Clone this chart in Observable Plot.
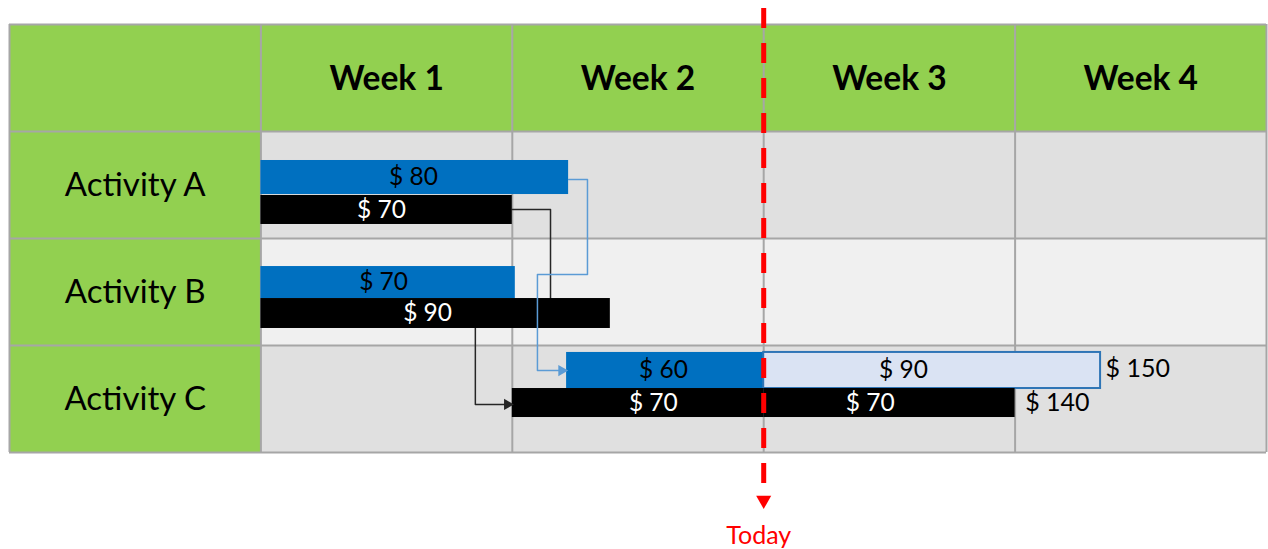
<!DOCTYPE html>
<html>
<head>
<meta charset="utf-8">
<script src="https://cdn.jsdelivr.net/npm/d3@7"></script>
<script src="https://cdn.jsdelivr.net/npm/@observablehq/plot@0.6"></script>
<style>
  html, body { margin: 0; padding: 0; background: #fff; }
  #chart svg { display: block; }
</style>
</head>
<body>
<div id="chart"></div>
<script>
// ---- data ----
const weeks = ["Week 1", "Week 2", "Week 3", "Week 4"];
const activities = ["Activity A", "Activity B", "Activity C"];
const rowFills = ["#E0E0E0", "#F0F0F0", "#E0E0E0"];

// bars: row index (1-based under header), start/end in weeks, top/bottom within row (fraction of row)
const barRow   = [1, 1, 2, 2, 3, 3, 3, 3];
const barStart = [0, 0, 0, 0, 1.216, 2.0, 1.0, 2.0];
const barEnd   = [1.224, 1.0, 1.012, 1.39, 2.0, 3.34, 2.0, 3.0];
const barTop   = [0.271, 0.598, 0.262, 0.561, 0.065, 0.065, 0.402, 0.402];
const barBot   = [0.589, 0.869, 0.561, 0.841, 0.402, 0.402, 0.673, 0.673];
const barKind  = ["plan", "actual", "plan", "actual", "plan", "forecast", "actual", "actual"];

// bar value labels
const labelText = ["$ 80", "$ 70", "$ 70", "$ 90", "$ 60", "$ 90", "$ 70", "$ 70"];
const labelX    = [0.607, 0.48, 0.488, 0.663, 1.601, 2.556, 1.561, 2.424];

// totals
const totalText = ["$ 150", "$ 140"];
const totalX    = [3.36, 3.04];
const totalY    = [3.215, 3.54];

// dependency connectors (waypoints in week / row units)
const connBlackX = [1.0, 1.152, 1.152, 0.853, 0.853, 1.0];
const connBlackY = [1.729, 1.729, 2.70, 2.70, 3.551, 3.551];
const connBlueX  = [1.224, 1.299, 1.299, 1.100, 1.100, 1.216];
const connBlueY  = [1.449, 1.449, 2.336, 2.336, 3.234, 3.234];

const today = 2.0;
const todayLabel = "Today";

// ---- build tables ----
const kindFill = {plan: "#0070C0", actual: "#000000", forecast: "#DAE3F3"};
const kindStroke = {plan: "none", actual: "none", forecast: "#2E75B6"};
const kindText = {plan: "#000000", actual: "#FFFFFF", forecast: "#000000"};

const cells = [];
for (let r = 0; r <= 3; r++) {
  for (let c = -1; c < 4; c++) {
    const green = r === 0 || c === -1;
    cells.push({c, r, fill: green ? "#92D050" : rowFills[r - 1]});
  }
}
const bars = barRow.map((row, i) => ({
  row, x1: barStart[i], x2: barEnd[i],
  y1: row + barTop[i], y2: row + barBot[i],
  kind: barKind[i], label: labelText[i], lx: labelX[i],
  ly: row + (barTop[i] + barBot[i]) / 2
}));
const blackConn = connBlackX.map((x, i) => ({x, y: connBlackY[i]}));
const blueConn = connBlueX.map((x, i) => ({x, y: connBlueY[i]}));
const arrowHeads = [
  {id: "black", x: connBlackX[connBlackX.length - 1], y: connBlackY[connBlackY.length - 1]},
  {id: "blue", x: connBlueX[connBlueX.length - 1], y: connBlueY[connBlueY.length - 1]}
];
const connColor = {black: "#262626", blue: "#5B9BD5"};
const totals = totalText.map((t, i) => ({t, x: totalX[i], y: totalY[i]}));

const font = "Lato, 'Open Sans', sans-serif";

const chart = Plot.plot({
  width: 1268,
  height: 549,
  margin: 0,
  style: {background: "#fff", fontFamily: font, overflow: "visible"},
  x: {domain: [-1, 4], range: [9, 1266], axis: null},
  y: {domain: [0, 4], range: [24, 452], axis: null},
  marks: [
    Plot.rect(cells, {x1: d => d.c, x2: d => d.c + 1, y1: "r", y2: d => d.r + 1, fill: "fill"}),
    Plot.ruleX(d3.range(-1, 5), {y1: 0, y2: 4, stroke: "#A6A6A6", strokeWidth: 2}),
    Plot.ruleY(d3.range(0, 5), {x1: -1, x2: 4, stroke: "#A6A6A6", strokeWidth: 2}),
    Plot.text(weeks, {x: (d, i) => i + 0.5, y: 0.5, dy: 1, text: d => d, fontSize: 33.5, fontWeight: "bold", fill: "#000"}),
    Plot.text(activities, {x: -0.5, y: (d, i) => i + 1.5, text: d => d, fontSize: 33, fill: "#000"}),
    Plot.line(blackConn, {x: "x", y: "y", stroke: connColor.black, strokeWidth: 1.5}),
    Plot.rect(bars, {x1: "x1", x2: "x2", y1: "y1", y2: "y2",
      fill: d => kindFill[d.kind], stroke: d => kindStroke[d.kind], strokeWidth: 2}),
    Plot.line(blueConn, {x: "x", y: "y", stroke: connColor.blue, strokeWidth: 1.5}),
    Plot.text(bars, {x: "lx", y: "ly", text: "label", fill: d => kindText[d.kind], fontSize: 24.5}),
    Plot.text(totals, {x: "x", y: "y", text: "t", textAnchor: "start", fontSize: 25, fill: "#000"}),
    Plot.dot(arrowHeads, {x: "x", y: "y", dx: -5, symbol: "triangle", rotate: 90, r: 4.2, fill: d => connColor[d.id], stroke: "none"}),
    Plot.ruleX([today], {y1: -0.15, y2: 4.34, stroke: "#FF0000", strokeWidth: 5, strokeDasharray: "20,15"}),
    Plot.dot([today], {x: d => d, y: 4.446, symbol: "triangle", rotate: 180, r: 5.6, fill: "#FF0000", stroke: "none"}),
    Plot.text([todayLabel], {x: today, y: 4.785, dx: -5, text: d => d, fill: "#FF0000", fontSize: 25})
  ]
});
document.getElementById("chart").appendChild(chart);
</script>
</body>
</html>
